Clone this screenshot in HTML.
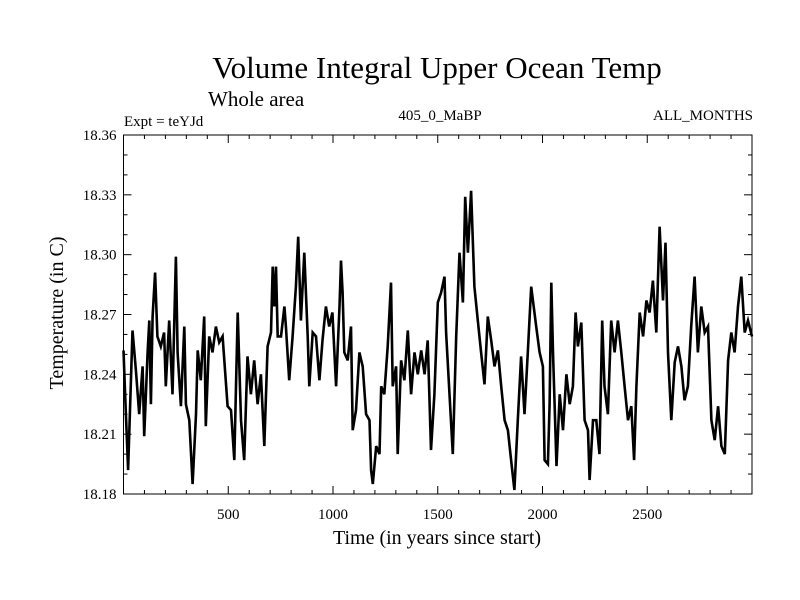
<!DOCTYPE html>
<html><head><meta charset="utf-8"><style>
body{margin:0;background:#fff}
svg{display:block}
text{font-family:"Liberation Serif",serif;fill:#000}
</style></head><body>
<svg id="chart" width="800" height="600" xmlns="http://www.w3.org/2000/svg">
<text x="437" y="78" font-size="31" text-anchor="middle">Volume Integral Upper Ocean Temp</text>
<text x="208" y="106" font-size="21">Whole area</text>
<text x="124" y="126" font-size="15">Expt = teYJd</text>
<text x="440" y="120" font-size="15" text-anchor="middle">405_0_MaBP</text>
<text x="753" y="120" font-size="15" text-anchor="end">ALL_MONTHS</text>
<text transform="translate(63,313) rotate(-90)" font-size="20" text-anchor="middle">Temperature (in C)</text>
<text x="437" y="544" font-size="20" text-anchor="middle">Time (in years since start)</text>
<g id="axes"></g>
<path id="series" fill="none" stroke="#000" stroke-width="2.6" stroke-linejoin="miter"/>
<rect x="123.5" y="135" width="628.5" height="359" fill="none" stroke="#000" stroke-width="1"/>
</svg>
<script>
const years=[0,8,22,43,59,75,91,99,115,123,131,139,151,162,178,194,202,218,234,250,258,274,290,298,314,330,346,354,369,385,393,409,425,441,457,473,497,513,529,545,561,576,592,608,624,640,656,672,688,704,712,720,728,736,752,768,775,791,807,823,834,847,863,879,887,903,919,935,950,966,982,997,1015,1031,1038,1046,1054,1070,1086,1094,1110,1126,1142,1158,1174,1182,1190,1206,1222,1230,1245,1261,1277,1285,1301,1309,1325,1341,1357,1373,1389,1405,1421,1437,1452,1468,1484,1500,1516,1532,1540,1556,1572,1588,1604,1620,1631,1644,1659,1675,1691,1707,1723,1739,1755,1771,1787,1803,1819,1835,1850,1866,1882,1898,1914,1930,1946,1970,1986,2002,2010,2026,2034,2042,2050,2067,2082,2098,2114,2130,2145,2158,2169,2185,2201,2217,2225,2241,2257,2272,2285,2296,2312,2328,2344,2360,2376,2392,2408,2424,2437,2448,2464,2480,2496,2511,2527,2543,2559,2575,2587,2599,2615,2631,2647,2663,2678,2694,2710,2726,2742,2758,2774,2790,2806,2822,2838,2854,2870,2886,2901,2917,2933,2949,2965,2981,3000];
const temps=[18.252,18.229,18.192,18.262,18.242,18.220,18.244,18.209,18.251,18.267,18.225,18.269,18.291,18.259,18.254,18.261,18.234,18.267,18.230,18.299,18.251,18.224,18.264,18.225,18.217,18.185,18.220,18.252,18.237,18.269,18.214,18.259,18.251,18.264,18.256,18.259,18.224,18.222,18.197,18.271,18.217,18.197,18.249,18.230,18.247,18.225,18.240,18.204,18.254,18.261,18.294,18.274,18.294,18.259,18.259,18.274,18.264,18.237,18.259,18.284,18.309,18.267,18.301,18.259,18.234,18.261,18.259,18.237,18.257,18.274,18.264,18.271,18.234,18.274,18.297,18.281,18.251,18.247,18.264,18.212,18.222,18.251,18.244,18.220,18.217,18.192,18.185,18.204,18.200,18.234,18.230,18.254,18.286,18.234,18.244,18.200,18.247,18.237,18.262,18.230,18.251,18.240,18.252,18.240,18.257,18.202,18.230,18.276,18.281,18.289,18.261,18.230,18.200,18.259,18.301,18.276,18.329,18.301,18.332,18.284,18.267,18.251,18.235,18.269,18.257,18.244,18.252,18.234,18.217,18.212,18.197,18.182,18.217,18.249,18.220,18.251,18.284,18.264,18.251,18.244,18.197,18.195,18.225,18.286,18.251,18.194,18.230,18.212,18.240,18.225,18.234,18.271,18.254,18.266,18.217,18.212,18.187,18.217,18.217,18.200,18.267,18.234,18.220,18.267,18.251,18.267,18.251,18.234,18.217,18.224,18.197,18.234,18.271,18.259,18.277,18.271,18.287,18.261,18.314,18.277,18.306,18.251,18.217,18.246,18.254,18.244,18.227,18.234,18.264,18.289,18.251,18.274,18.261,18.264,18.217,18.207,18.224,18.204,18.200,18.247,18.261,18.251,18.274,18.289,18.261,18.267,18.259];
const xTickLabels=[500,1000,1500,2000,2500];
const yTickLabels=["18.18","18.21","18.24","18.27","18.30","18.33","18.36"];

const X0=123.5,X1=752,Y0=494,Y1=135;
function xs(v){return X0+(v-0)/(3000-0)*(X1-X0);}
function ys(v){return Y0-(v-18.18)/(18.36-18.18)*(Y0-Y1);}
const NS="http://www.w3.org/2000/svg";
const axes=document.getElementById('axes');
function line(x1,y1,x2,y2,name){
  const l=document.createElementNS(NS,'line');
  l.setAttribute('x1',x1);l.setAttribute('y1',y1);l.setAttribute('x2',x2);l.setAttribute('y2',y2);
  l.setAttribute('stroke','#000');l.setAttribute('stroke-width','1');
  
  
  axes.appendChild(l);
}
for(let t=100;t<3000;t+=100){
  const x=xs(t), len=(t%500===0)?8:4;
  line(x,Y0,x,Y0-len,'x-tick');
  line(x,Y1,x,Y1+len,'x-tick-top');
}
for(let i=1;i<18;i++){
  const v=18.18+i*0.01, y=ys(v), len=(i%3===0)?8:4;
  line(X0,y,X0+len,y,'y-tick');
  line(X1,y,X1-len,y,'y-tick-right');
}
xTickLabels.forEach(v=>{
  const t=document.createElementNS(NS,'text');
  t.setAttribute('x',xs(v));t.setAttribute('y',Y0+25);
  t.setAttribute('font-size','15');t.setAttribute('text-anchor','middle');
  
  
  t.textContent=v;axes.appendChild(t);
});
yTickLabels.forEach(s=>{
  const t=document.createElementNS(NS,'text');
  t.setAttribute('x',X0-7);t.setAttribute('y',ys(parseFloat(s))+5);
  t.setAttribute('font-size','15');t.setAttribute('text-anchor','end');
  
  
  t.textContent=s;axes.appendChild(t);
});
let d='';
years.forEach((yr,i)=>{d+=(i?'L':'M')+xs(yr).toFixed(1)+','+ys(temps[i]).toFixed(1);});
document.getElementById('series').setAttribute('d',d);
</script>
</body></html>
